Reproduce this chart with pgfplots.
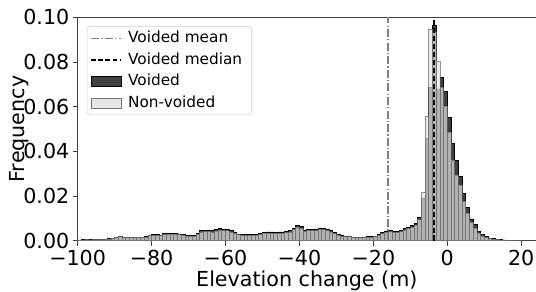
\documentclass[border=0pt]{standalone}
\usepackage{pgfplots}
\pgfplotsset{compat=1.18}
\usepackage{pgfplotstable}
\usepackage{fontspec}
\setmainfont{DejaVu Sans}
\definecolor{voidfill}{HTML}{404040}
\definecolor{nvfill}{HTML}{E3E3E3}
\definecolor{meangray}{HTML}{808080}
\pgfplotsset{
  lineleg/.style={legend image code/.code={\draw[##1, sharp corners] (0pt,0pt) -- (22.5pt,0pt);}},
  boxleg/.style={legend image code/.code={\draw[##1, sharp corners] (0pt,-3.75pt) rectangle (22.5pt,3.75pt);}},
}

\pgfplotstableread{
x y
-100 0.0004
-99 0.0005
-98 0.0006
-97 0.0005
-96 0.0006
-95 0.0006
-94 0.0006
-93 0.0007
-92 0.0009
-91 0.0012
-90 0.0017
-89 0.0021
-88 0.0017
-87 0.0016
-86 0.0016
-85 0.0017
-84 0.0017
-83 0.0017
-82 0.0018
-81 0.0026
-80 0.0027
-79 0.0027
-78 0.0026
-77 0.0032
-76 0.0034
-75 0.0034
-74 0.0034
-73 0.0031
-72 0.0028
-71 0.0025
-70 0.0024
-69 0.0024
-68 0.0033
-67 0.0045
-66 0.0048
-65 0.0047
-64 0.0045
-63 0.0050
-62 0.0055
-61 0.0052
-60 0.0051
-59 0.0045
-58 0.0038
-57 0.0031
-56 0.0027
-55 0.0027
-54 0.0027
-53 0.0027
-52 0.0029
-51 0.0033
-50 0.0039
-49 0.0040
-48 0.0040
-47 0.0036
-46 0.0040
-45 0.0040
-44 0.0041
-43 0.0045
-42 0.0057
-41 0.0070
-40 0.0063
-39 0.0048
-38 0.0052
-37 0.0052
-36 0.0051
-35 0.0058
-34 0.0057
-33 0.0053
-32 0.0045
-31 0.0036
-30 0.0029
-29 0.0023
-28 0.0022
-27 0.0022
-26 0.0017
-25 0.0016
-24 0.0016
-23 0.0016
-22 0.0018
-21 0.0019
-20 0.0021
-19 0.0027
-18 0.0036
-17 0.0044
-16 0.0047
-15 0.0043
-14 0.0043
-13 0.0047
-12 0.0056
-11 0.0062
-10 0.0068
-9 0.0079
-8 0.0106
-7 0.0190
-6 0.0460
-5 0.0685
-4 0.0966
-3 0.0680
-2 0.0732
-1 0.0668
0 0.0553
1 0.0434
2 0.0359
3 0.0287
4 0.0213
5 0.0148
6 0.0098
7 0.0072
8 0.0042
9 0.0027
10 0.0019
11 0.0013
12 0.0010
13 0.0007
14 0.0005
15 0.0004
16 0.0003
17 0.0002
18 0.0001
19 0.0001
20 0
}\voided

\pgfplotstableread{
x y
-100 0.0004
-99 0.0004
-98 0.0005
-97 0.0004
-96 0.0005
-95 0.0005
-94 0.0005
-93 0.0006
-92 0.0008
-91 0.0011
-90 0.0015
-89 0.0018
-88 0.0015
-87 0.0014
-86 0.0014
-85 0.0015
-84 0.0015
-83 0.0015
-82 0.0016
-81 0.0023
-80 0.0024
-79 0.0024
-78 0.0023
-77 0.0028
-76 0.0030
-75 0.0030
-74 0.0030
-73 0.0027
-72 0.0025
-71 0.0022
-70 0.0021
-69 0.0021
-68 0.0029
-67 0.0040
-66 0.0042
-65 0.0041
-64 0.0040
-63 0.0044
-62 0.0048
-61 0.0046
-60 0.0045
-59 0.0040
-58 0.0033
-57 0.0027
-56 0.0024
-55 0.0024
-54 0.0024
-53 0.0024
-52 0.0026
-51 0.0029
-50 0.0034
-49 0.0035
-48 0.0035
-47 0.0032
-46 0.0035
-45 0.0035
-44 0.0036
-43 0.0040
-42 0.0050
-41 0.0062
-40 0.0055
-39 0.0042
-38 0.0046
-37 0.0046
-36 0.0045
-35 0.0051
-34 0.0050
-33 0.0047
-32 0.0040
-31 0.0032
-30 0.0026
-29 0.0020
-28 0.0019
-27 0.0019
-26 0.0015
-25 0.0014
-24 0.0014
-23 0.0014
-22 0.0016
-21 0.0017
-20 0.0019
-19 0.0024
-18 0.0032
-17 0.0039
-16 0.0041
-15 0.0038
-14 0.0038
-13 0.0041
-12 0.0049
-11 0.0055
-10 0.0060
-9 0.0070
-8 0.0095
-7 0.0216
-6 0.0556
-5 0.0946
-4 0.0935
-3 0.0805
-2 0.0687
-1 0.0603
0 0.0486
1 0.0362
2 0.0295
3 0.0250
4 0.0176
5 0.0124
6 0.0084
7 0.0057
8 0.0035
9 0.0022
10 0.0015
11 0.0010
12 0.0008
13 0.0005
14 0.0004
15 0.0003
16 0.0002
17 0.0002
18 0.0001
19 0.0001
20 0
}\nonvoided

\begin{document}
\begin{tikzpicture}
\begin{axis}[
  name=ax,
  scale only axis,
  width=344.1pt, height=167.8pt,
  xmin=-100, xmax=24, ymin=0, ymax=0.1,
  xtick={-100,-80,-60,-40,-20,0,20},
  xticklabels={−100,−80,−60,−40,−20,0,20},
  ytick={0,0.02,0.04,0.06,0.08,0.1},
  yticklabels={0.00,0.02,0.04,0.06,0.08,0.10},
  scaled y ticks=false,
  tick pos=left, tick align=outside, major tick length=3.75pt,
  tick style={black!75, line width=0.6pt},
  axis line style={black!75, line width=0.6pt},
  ticklabel style={font=\fontsize{15.5}{17}\selectfont},
  yticklabel style={xshift=1pt},
  label style={font=\fontsize{15.5}{17}\selectfont},
  xlabel style={yshift=3pt},
  ylabel style={yshift=-11pt},
  xlabel={Elevation change (m)},
  ylabel={Frequency},
  legend cell align=left,
  legend style={at={(0.0203,0.96)}, anchor=north west,
    draw=black!20, fill=white, rounded corners=2pt,
    font=\fontsize{11.5}{13}\selectfont,
    inner xsep=2.5pt, inner ysep=0.8pt, row sep=0pt,
    nodes={inner xsep=4.5pt, inner ysep=2.5pt, text height=8.7pt, text depth=2.5pt}},
]
\addlegendimage{lineleg, meangray, line width=1.1pt, dash pattern=on 6pt off 1.6pt on 1pt off 1.6pt}
\addlegendentry{Voided mean}
\addlegendimage{lineleg, black, line width=1.2pt, dash pattern=on 3.5pt off 1.8pt}
\addlegendentry{Voided median}
\addlegendimage{boxleg, fill=voidfill, draw=black, line width=0.6pt}
\addlegendentry{Voided}
\addlegendimage{boxleg, fill=nvfill!90!white, draw=black!55, line width=0.6pt}
\addlegendentry{Non-voided}

\addplot[ybar interval, fill=voidfill, draw=black, line width=0.5pt, forget plot] table[x=x, y=y] {\voided};
\addplot[ybar interval, fill=nvfill, draw=black!60, line width=0.5pt, fill opacity=0.7, draw opacity=0.7, forget plot] table[x=x, y=y] {\nonvoided};

\addplot[meangray, line width=1.2pt, dash pattern=on 6pt off 1.6pt on 1pt off 1.6pt, forget plot] coordinates {(-16,0) (-16,0.1)};
\addplot[black, line width=1.5pt, dash pattern=on 4pt off 2pt, forget plot] coordinates {(-3.7,0) (-3.7,0.1)};
\end{axis}
\pgfresetboundingbox
\path ([xshift=-58.3pt, yshift=-38.25pt]ax.south west) rectangle ([yshift=13pt]ax.north east);
\end{tikzpicture}
\end{document}
